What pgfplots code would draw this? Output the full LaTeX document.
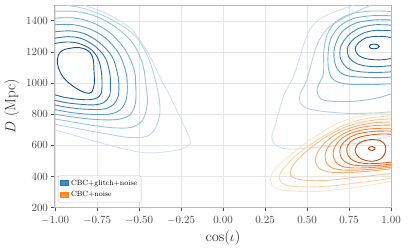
\documentclass[border=0pt]{standalone}
\usepackage{pgfplots}
\pgfplotsset{compat=1.18}
% Blues (outer -> inner)
\definecolor{bA}{HTML}{CFE1F2}
\definecolor{bB}{HTML}{B5D2EA}
\definecolor{bC}{HTML}{98C2E1}
\definecolor{bD}{HTML}{78B0D8}
\definecolor{bE}{HTML}{5B9ECE}
\definecolor{bF}{HTML}{438AC2}
\definecolor{bG}{HTML}{2E76B6}
\definecolor{bH}{HTML}{1D62A8}
\definecolor{bI}{HTML}{0E4D96}
% Oranges (outer -> inner)
\definecolor{oA}{HTML}{FEE3C8}
\definecolor{oB}{HTML}{FDD4AA}
\definecolor{oC}{HTML}{FDC28C}
\definecolor{oD}{HTML}{FDAE6D}
\definecolor{oE}{HTML}{FD9A52}
\definecolor{oF}{HTML}{F8853B}
\definecolor{oG}{HTML}{F07026}
\definecolor{oH}{HTML}{E25C14}
\definecolor{oI}{HTML}{CB4A0A}
\definecolor{oJ}{HTML}{A83C06}
\definecolor{legblue}{HTML}{1F77B4}
\definecolor{legorange}{HTML}{FF7F0E}
\begin{document}
\begin{tikzpicture}
\begin{axis}[
  width=336pt, height=202.5pt, scale only axis,
  xmin=-1, xmax=1, ymin=200, ymax=1500,
  xtick={-1,-0.75,-0.5,-0.25,0,0.25,0.5,0.75,1},
  ytick={200,400,600,800,1000,1200,1400},
  xticklabel style={/pgf/number format/.cd, fixed, fixed zerofill, precision=2, /tikz/.cd, yshift=-1.5pt},
  yticklabel style={/pgf/number format/.cd, 1000 sep={}},
  ticklabel style={font=\fontsize{11}{12}\selectfont, text=black!72},
  tick align=outside, xtick pos=bottom, ytick pos=left,
  major tick length=3.5pt,
  every tick/.style={black!70, line width=0.6pt},
  grid=major,
  major grid style={black!10, line width=0.5pt},
  axis line style={black!28, line width=1pt},
  xlabel={$\cos(\iota)$}, ylabel={$D$ (Mpc)},
  label style={font=\fontsize{15}{16}\selectfont, text=black!85},
  legend style={at={(axis description cs:0,0)}, anchor=south west, xshift=3pt, yshift=5pt,
    draw=black!25, rounded corners=2pt, fill=white, fill opacity=0.85, text opacity=1,
    font=\fontsize{7.5}{8.5}\selectfont, row sep=1.2pt, inner sep=2pt,
    cells={anchor=west}},
  every axis plot/.append style={line width=0.9pt, smooth, tension=0.55, forget plot},
]
\coordinate (A) at (rel axis cs:0,0);
\coordinate (B) at (rel axis cs:1,1);
\addlegendimage{legend image code/.code={\fill[legblue, sharp corners] (0pt,-2.4pt) rectangle (8pt,2.6pt);}}
\addlegendentry{CBC+glitch+noise}
\addlegendimage{legend image code/.code={\fill[legorange, sharp corners] (0pt,-2.4pt) rectangle (8pt,2.6pt);}}
\addlegendentry{CBC+noise}
% ---- left blue mode
\addplot[bA] coordinates {(-0.83,1500) (-0.70,1450) (-0.55,1350) (-0.45,1200) (-0.38,1050) (-0.315,913) (-0.24,745) (-0.196,636) (-0.214,591) (-0.30,565) (-0.45,552) (-0.60,580) (-0.73,617) (-0.87,660) (-1,700)};
\addplot[bB] coordinates {(-0.93,1500) (-0.80,1470) (-0.65,1400) (-0.52,1300) (-0.44,1150) (-0.39,960) (-0.375,820) (-0.40,715) (-0.45,660) (-0.55,650) (-0.70,675) (-0.85,705) (-1,735)};
\addplot[bC] coordinates {(-1,1461) (-0.88,1460) (-0.76,1430) (-0.64,1360) (-0.54,1260) (-0.48,1130) (-0.46,1000) (-0.45,870) (-0.48,760) (-0.55,715) (-0.68,715) (-0.84,740) (-1,770)};
\addplot[bD] coordinates {(-1,1417) (-0.89,1418) (-0.78,1390) (-0.67,1320) (-0.58,1210) (-0.53,1090) (-0.52,1000) (-0.52,880) (-0.55,800) (-0.62,768) (-0.74,765) (-0.88,780) (-1,800)};
\addplot[bE] coordinates {(-1,1374) (-0.90,1376) (-0.80,1350) (-0.70,1290) (-0.62,1190) (-0.58,1080) (-0.57,1000) (-0.575,900) (-0.61,830) (-0.68,800) (-0.80,800) (-0.91,812) (-1,830)};
\addplot[bF] coordinates {(-1,1329) (-0.91,1335) (-0.82,1315) (-0.73,1255) (-0.66,1170) (-0.63,1070) (-0.62,1000) (-0.625,910) (-0.66,855) (-0.72,832) (-0.83,833) (-0.93,845) (-1,860)};
\addplot[bG] coordinates {(-1,1288) (-0.92,1298) (-0.84,1285) (-0.76,1235) (-0.70,1160) (-0.675,1070) (-0.67,1000) (-0.675,920) (-0.71,875) (-0.77,860) (-0.86,865) (-0.94,875) (-1,890)};
\addplot[bH] coordinates {(-1,1254) (-0.93,1264) (-0.86,1255) (-0.79,1220) (-0.745,1160) (-0.725,1080) (-0.72,1000) (-0.725,935) (-0.75,905) (-0.80,893) (-0.88,898) (-0.95,910) (-1,925)};
\addplot[bI] coordinates {(-0.94,1217) (-0.97,1198) (-0.986,1153) (-0.98,1100) (-0.95,1036) (-0.89,978) (-0.82,938) (-0.782,942) (-0.766,1000) (-0.768,1080) (-0.772,1150) (-0.79,1195) (-0.83,1222) (-0.88,1228) (-0.94,1217)};
% ---- right blue mode
\addplot[bA] coordinates {(0.78,1500) (0.655,1454) (0.577,1411) (0.518,1346) (0.478,1239) (0.42,1045) (0.36,916) (0.31,723) (0.29,658) (0.31,605) (0.379,577) (0.498,583) (0.70,600) (0.855,626) (1,660)};
\addplot[bB] coordinates {(0.88,1500) (0.78,1450) (0.64,1367) (0.575,1280) (0.538,1174) (0.50,1024) (0.46,930) (0.46,875) (0.50,838) (0.60,818) (0.75,805) (0.90,808) (1,815)};
\addplot[bC] coordinates {(1,1460) (0.87,1462) (0.75,1440) (0.67,1390) (0.62,1310) (0.60,1200) (0.597,1060) (0.56,960) (0.587,895) (0.68,882) (0.80,885) (0.92,905) (1,930)};
\addplot[bD] coordinates {(1,1432) (0.88,1432) (0.77,1412) (0.69,1360) (0.64,1280) (0.625,1180) (0.63,1080) (0.66,1020) (0.73,995) (0.85,990) (1,995)};
\addplot[bE] coordinates {(1,1405) (0.9,1405) (0.79,1385) (0.71,1330) (0.67,1250) (0.66,1170) (0.68,1090) (0.73,1050) (0.82,1038) (0.92,1035) (1,1038)};
\addplot[bF] coordinates {(1,1372) (0.9,1374) (0.81,1352) (0.74,1300) (0.70,1230) (0.70,1155) (0.74,1097) (0.80,1075) (0.9,1068) (1,1072)};
\addplot[bG] coordinates {(1,1336) (0.9,1337) (0.83,1318) (0.77,1275) (0.74,1220) (0.75,1165) (0.79,1128) (0.85,1110) (0.92,1106) (1,1112)};
\addplot[bH] coordinates {(1.0,1293) (0.95,1300) (0.899,1299) (0.85,1290) (0.815,1266) (0.79,1235) (0.79,1205) (0.81,1175) (0.85,1157) (0.90,1150) (0.95,1150) (1.0,1157)};
\addplot[bI] coordinates {(0.87,1235) (0.88,1247) (0.90,1250) (0.92,1246) (0.93,1235) (0.92,1224) (0.90,1220) (0.88,1223) (0.87,1235)};
% ---- orange mode
\addplot[oA] coordinates {(1,810) (0.90,800) (0.776,777) (0.68,740) (0.597,690) (0.50,620) (0.439,572) (0.37,510) (0.32,460) (0.285,400) (0.29,350) (0.33,318) (0.45,305) (0.577,305) (0.75,325) (0.875,345) (1,370)};
\addplot[oB] coordinates {(1,790) (0.9,780) (0.80,760) (0.70,720) (0.60,660) (0.50,590) (0.42,520) (0.36,450) (0.335,400) (0.35,360) (0.40,340) (0.50,333) (0.65,340) (0.80,360) (0.92,375) (1,390)};
\addplot[oC] coordinates {(1,770) (0.9,762) (0.80,742) (0.70,705) (0.60,645) (0.50,565) (0.43,490) (0.40,430) (0.42,392) (0.50,375) (0.62,375) (0.75,390) (0.88,405) (1,420)};
\addplot[oD] coordinates {(1,750) (0.9,745) (0.80,725) (0.70,688) (0.62,630) (0.565,560) (0.55,500) (0.57,455) (0.63,430) (0.72,425) (0.82,430) (0.92,440) (1,450)};
\addplot[oE] coordinates {(1,730) (0.9,727) (0.80,710) (0.71,670) (0.64,610) (0.61,550) (0.615,490) (0.65,455) (0.72,442) (0.82,442) (0.92,450) (1,460)};
\addplot[oF] coordinates {(1,710) (0.9,708) (0.80,692) (0.72,655) (0.67,600) (0.655,545) (0.67,495) (0.71,465) (0.78,455) (0.87,457) (0.95,463) (1,470)};
\addplot[oG] coordinates {(1,692) (0.9,690) (0.80,673) (0.74,640) (0.70,590) (0.697,540) (0.72,500) (0.77,475) (0.85,468) (0.93,472) (1,480)};
\addplot[oH] coordinates {(1,672) (0.92,672) (0.82,655) (0.76,625) (0.737,580) (0.745,535) (0.78,500) (0.85,483) (0.93,485) (1,493)};
\addplot[oI] coordinates {(0.786,570) (0.80,605) (0.84,630) (0.89,638) (0.94,628) (0.966,600) (0.966,555) (0.94,515) (0.89,498) (0.83,510) (0.795,540) (0.786,570)};
\addplot[oJ] coordinates {(0.865,580) (0.875,590) (0.89,592) (0.905,585) (0.905,575) (0.89,568) (0.875,570) (0.865,580)};
\end{axis}
\pgfresetboundingbox
\path ([shift={(-55pt,-42.3pt)}]A) rectangle ([shift={(16pt,5.2pt)}]B);
\end{tikzpicture}
\end{document}
